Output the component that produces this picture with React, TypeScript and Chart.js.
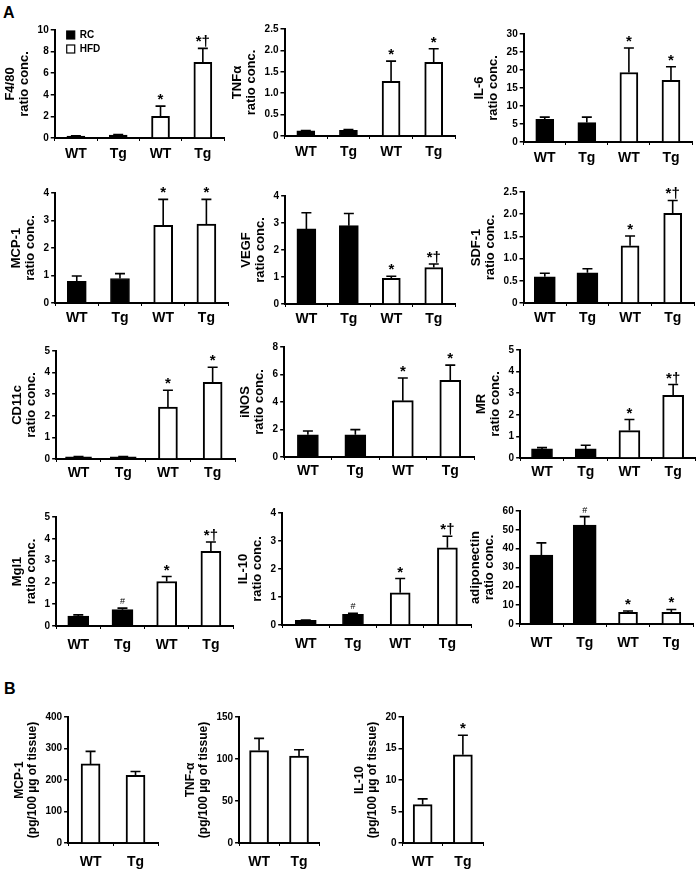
import React, { useEffect, useRef } from "react";
import { Chart, registerables } from "chart.js";

Chart.register(...registerables);

const FONT = "'Liberation Sans', Arial, Helvetica, sans-serif";

// ---------- categories ----------
const groupsA = ["WT", "Tg", "WT", "Tg"];
const groupsB = ["WT", "Tg"];
const seriesNames = ["RC", "HFD"];

// ---------- Panel A values (RC = black, HFD = white) ----------
const f480RC = [0.18, 0.27, null, null];
const f480HFD = [null, null, 2.0, 7.0];
const f480Err = [0.03, 0.05, 0.95, 1.3];
const f480Marks = ["", "", "*", "*†"];

const tnfRC = [0.12, 0.13, null, null];
const tnfHFD = [null, null, 1.28, 1.72];
const tnfErr = [0.01, 0.02, 0.47, 0.32];
const tnfMarks = ["", "", "*", "*"];

const il6RC = [6.3, 5.4, null, null];
const il6HFD = [null, null, 19.3, 17.1];
const il6Err = [0.6, 1.5, 6.8, 3.8];
const il6Marks = ["", "", "*", "*"];

const mcpRC = [0.79, 0.89, null, null];
const mcpHFD = [null, null, 2.82, 2.87];
const mcpErr = [0.19, 0.18, 0.95, 0.9];
const mcpMarks = ["", "", "*", "*"];

const vegfRC = [2.78, 2.9, null, null];
const vegfHFD = [null, null, 0.95, 1.35];
const vegfErr = [0.6, 0.45, 0.08, 0.13];
const vegfMarks = ["", "", "*", "*†"];

const sdfRC = [0.59, 0.68, null, null];
const sdfHFD = [null, null, 1.29, 2.02];
const sdfErr = [0.08, 0.09, 0.22, 0.29];
const sdfMarks = ["", "", "*", "*†"];

const cd11cRC = [0.1, 0.1, null, null];
const cd11cHFD = [null, null, 2.4, 3.55];
const cd11cErr = [0.01, 0.01, 0.78, 0.7];
const cd11cMarks = ["", "", "*", "*"];

const inosRC = [1.62, 1.62, null, null];
const inosHFD = [null, null, 4.1, 5.58];
const inosErr = [0.27, 0.37, 1.65, 1.1];
const inosMarks = ["", "", "*", "*"];

const mrRC = [0.42, 0.42, null, null];
const mrHFD = [null, null, 1.27, 2.9];
const mrErr = [0.06, 0.17, 0.51, 0.5];
const mrMarks = ["", "", "*", "*†"];

const mgl1RC = [0.46, 0.75, null, null];
const mgl1HFD = [null, null, 2.04, 3.42];
const mgl1Err = [0.05, 0.07, 0.23, 0.43];
const mgl1Marks = ["", "#", "*", "*†"];

const il10RC = [0.17, 0.38, null, null];
const il10HFD = [null, null, 1.15, 2.76];
const il10Err = [0.01, 0.04, 0.51, 0.41];
const il10Marks = ["", "#", "*", "*†"];

const adipoRC = [36.6, 52.5, null, null];
const adipoHFD = [null, null, 6.2, 6.2];
const adipoErr = [6.5, 4.5, 0.7, 1.5];
const adipoMarks = ["", "#", "*", "*"];

// ---------- Panel B values (pg/100 µg of tissue) ----------
const bMcpVals = [251, 215];
const bMcpErr = [40, 12];
const bMcpMarks = ["", ""];

const bTnfVals = [110, 103.5];
const bTnfErr = [14.5, 7.5];
const bTnfMarks = ["", ""];

const bIl10Vals = [6.1, 14.0];
const bIl10Err = [0.9, 3.1];
const bIl10Marks = ["", "*"];

// ---------- axis titles ----------
const ratioTitle = "ratio conc.";
const tissueTitle = "(pg/100 µg of tissue)";

type Spec = {
  key: string;
  title: string[];
  labels: string[];
  rc: (number | null)[] | null;
  hfd: (number | null)[];
  err: number[];
  marks: string[];
  max: number;
  step: number;
  legend?: boolean;
};

const specs: Spec[] = [
  { key: "f480", title: ["F4/80", ratioTitle], labels: groupsA, rc: f480RC, hfd: f480HFD, err: f480Err, marks: f480Marks, max: 10, step: 2, legend: true },
  { key: "tnf", title: ["TNFα", ratioTitle], labels: groupsA, rc: tnfRC, hfd: tnfHFD, err: tnfErr, marks: tnfMarks, max: 2.5, step: 0.5 },
  { key: "il6", title: ["IL-6", ratioTitle], labels: groupsA, rc: il6RC, hfd: il6HFD, err: il6Err, marks: il6Marks, max: 30, step: 5 },
  { key: "mcp", title: ["MCP-1", ratioTitle], labels: groupsA, rc: mcpRC, hfd: mcpHFD, err: mcpErr, marks: mcpMarks, max: 4, step: 1 },
  { key: "vegf", title: ["VEGF", ratioTitle], labels: groupsA, rc: vegfRC, hfd: vegfHFD, err: vegfErr, marks: vegfMarks, max: 4, step: 1 },
  { key: "sdf", title: ["SDF-1", ratioTitle], labels: groupsA, rc: sdfRC, hfd: sdfHFD, err: sdfErr, marks: sdfMarks, max: 2.5, step: 0.5 },
  { key: "cd11c", title: ["CD11c", ratioTitle], labels: groupsA, rc: cd11cRC, hfd: cd11cHFD, err: cd11cErr, marks: cd11cMarks, max: 5, step: 1 },
  { key: "inos", title: ["iNOS", ratioTitle], labels: groupsA, rc: inosRC, hfd: inosHFD, err: inosErr, marks: inosMarks, max: 8, step: 2 },
  { key: "mr", title: ["MR", ratioTitle], labels: groupsA, rc: mrRC, hfd: mrHFD, err: mrErr, marks: mrMarks, max: 5, step: 1 },
  { key: "mgl1", title: ["Mgl1", ratioTitle], labels: groupsA, rc: mgl1RC, hfd: mgl1HFD, err: mgl1Err, marks: mgl1Marks, max: 5, step: 1 },
  { key: "il10", title: ["IL-10", ratioTitle], labels: groupsA, rc: il10RC, hfd: il10HFD, err: il10Err, marks: il10Marks, max: 4, step: 1 },
  { key: "adipo", title: ["adiponectin", ratioTitle], labels: groupsA, rc: adipoRC, hfd: adipoHFD, err: adipoErr, marks: adipoMarks, max: 60, step: 10 },
  { key: "bmcp", title: ["MCP-1", tissueTitle], labels: groupsB, rc: null, hfd: bMcpVals, err: bMcpErr, marks: bMcpMarks, max: 400, step: 100 },
  { key: "btnf", title: ["TNF-α", tissueTitle], labels: groupsB, rc: null, hfd: bTnfVals, err: bTnfErr, marks: bTnfMarks, max: 150, step: 50 },
  { key: "bil10", title: ["IL-10", tissueTitle], labels: groupsB, rc: null, hfd: bIl10Vals, err: bIl10Err, marks: bIl10Marks, max: 20, step: 5 },
];

// ---------- layout (page pixels): plot left, plot right, top tick, baseline ----------
type Geo = { ax: number; right: number; top: number; base: number; bars: [number, number]; pad: number; tsize: number };
const geometry: Record<string, Geo> = {
  f480: { ax: 55, right: 224, top: 30, base: 138, bars: [18, 18], pad: 5, tsize: 13 },
  tnf: { ax: 285, right: 455, top: 29, base: 136, bars: [18, 18], pad: 5, tsize: 13 },
  il6: { ax: 524, right: 692, top: 34, base: 142, bars: [18, 18], pad: 5, tsize: 13 },
  mcp: { ax: 55, right: 228, top: 193, base: 303, bars: [19, 19], pad: 4, tsize: 13 },
  vegf: { ax: 285, right: 455, top: 196, base: 304, bars: [19, 18], pad: 4, tsize: 13 },
  sdf: { ax: 524, right: 694, top: 192, base: 303, bars: [21, 18], pad: 4, tsize: 13 },
  cd11c: { ax: 56, right: 235, top: 351, base: 459, bars: [26, 19], pad: 3, tsize: 13 },
  inos: { ax: 284, right: 474, top: 347, base: 457, bars: [21, 21], pad: 3, tsize: 13 },
  mr: { ax: 520, right: 695, top: 350, base: 458, bars: [21, 21], pad: 3, tsize: 13 },
  mgl1: { ax: 56, right: 233, top: 517, base: 626, bars: [21, 20], pad: 8, tsize: 13 },
  il10: { ax: 282, right: 471, top: 513, base: 625, bars: [21, 20], pad: 8, tsize: 13 },
  adipo: { ax: 520, right: 693, top: 511, base: 624, bars: [23, 19], pad: 8, tsize: 13 },
  bmcp: { ax: 68, right: 158, top: 717, base: 843, bars: [19, 19], pad: 8, tsize: 12 },
  btnf: { ax: 239, right: 319, top: 717, base: 843, bars: [19, 19], pad: 8, tsize: 12 },
  bil10: { ax: 403, right: 483, top: 717, base: 843, bars: [19, 19], pad: 8, tsize: 12 },
};

const PT = 26; // room above plot for annotations
const XH = 32; // x-axis band height

function buildChart(canvas: HTMLCanvasElement, spec: Spec, g: Geo, width: number, padRight: number) {
  const plotH = g.base - g.top;
  const height = PT + plotH + XH;
  canvas.width = width;
  canvas.height = height;
  canvas.style.width = width + "px";
  canvas.style.height = height + "px";
  canvas.style.top = g.top - PT + "px";

  const datasets: any[] = [];
  if (spec.rc) {
    datasets.push({
      label: seriesNames[0],
      data: spec.rc,
      backgroundColor: "#000",
      borderColor: "#000",
      borderWidth: 1,
      barThickness: g.bars[0],
      grouped: false,
    });
  }
  datasets.push({
    label: seriesNames[1],
    data: spec.hfd,
    backgroundColor: "#fff",
    borderColor: "#000",
    borderWidth: 2,
    barThickness: g.bars[1],
    grouped: false,
  });

  const errPlugin = {
    id: "errMarks_" + spec.key,
    afterDatasetsDraw(chart: any) {
      const ctx = chart.ctx;
      const ys = chart.scales.y;
      ctx.save();
      ctx.strokeStyle = "#000";
      ctx.fillStyle = "#000";
      ctx.lineWidth = 1.6;
      chart.data.datasets.forEach((ds: any, di: number) => {
        const meta = chart.getDatasetMeta(di);
        meta.data.forEach((el: any, i: number) => {
          const v = ds.data[i];
          if (v === null || v === undefined) return;
          const e = spec.err[i] || 0;
          const y0 = ys.getPixelForValue(v);
          const y1 = ys.getPixelForValue(v + e);
          if (e > 0) {
            ctx.beginPath();
            ctx.moveTo(el.x, y0);
            ctx.lineTo(el.x, y1);
            ctx.moveTo(el.x - 5, y1);
            ctx.lineTo(el.x + 5, y1);
            ctx.stroke();
          }
          const m = spec.marks[i];
          if (m) {
            ctx.textAlign = "center";
            ctx.textBaseline = "alphabetic";
            if (m === "#") {
              ctx.font = `9px ${FONT}`;
              ctx.fillText(m, el.x, y1 - 4);
            } else {
              ctx.font = `bold 15px ${FONT}`;
              ctx.fillText(m, el.x, y1 - 2);
            }
          }
        });
      });
      // in-plot legend (top-left of the plot area)
      if (spec.legend) {
        const { left, top } = chart.chartArea;
        ctx.font = `bold 10px ${FONT}`;
        ctx.textAlign = "left";
        ctx.textBaseline = "middle";
        chart.data.datasets.forEach((ds: any, di: number) => {
          const bx = left + 12;
          const by = top + 1 + di * 14;
          ctx.fillStyle = ds.backgroundColor;
          ctx.fillRect(bx, by, 8, 8);
          ctx.strokeStyle = "#000";
          ctx.lineWidth = 1.2;
          ctx.strokeRect(bx, by, 8, 8);
          ctx.fillStyle = "#000";
          ctx.fillText(ds.label, bx + 13, by + 4.5);
        });
      }
      ctx.restore();
    },
  };

  return new Chart(canvas, {
    type: "bar",
    data: { labels: spec.labels, datasets },
    plugins: [errPlugin],
    options: {
      responsive: false,
      animation: false,
      devicePixelRatio: 1,
      layout: { padding: { top: PT, right: padRight, left: 0, bottom: 0 } },
      plugins: {
        tooltip: { enabled: false },
        legend: { display: false },
      },
      scales: {
        x: {
          grid: { display: true, drawOnChartArea: false, drawTicks: true, tickLength: 3, color: "#000", lineWidth: 1, offset: true },
          border: { display: true, color: "#000", width: 2 },
          ticks: { color: "#000", font: { family: FONT, size: 14, weight: "bold" }, padding: g.pad, maxRotation: 0, autoSkip: false },
          afterFit: (s: any) => {
            s.height = XH;
          },
        },
        y: {
          min: 0,
          max: spec.max,
          ticks: { stepSize: spec.step, color: "#000", font: { family: FONT, size: 10, weight: "bold" }, padding: 2 },
          grid: { drawOnChartArea: false, drawTicks: true, tickLength: 4, color: "#000", lineWidth: 1.5 },
          border: { display: true, color: "#000", width: 2 },
          title: {
            display: true,
            text: spec.title,
            color: "#000",
            font: { family: FONT, size: g.tsize, weight: "bold", lineHeight: 1.1 },
            padding: { top: 0, bottom: 4 },
          },
        },
      },
    } as any,
  });
}

function BarPanel({ spec }: { spec: Spec }) {
  const ref = useRef<HTMLCanvasElement>(null);
  useEffect(() => {
    const canvas = ref.current!;
    const g = geometry[spec.key];
    const plotW = g.right - g.ax;
    const trial = buildChart(canvas, spec, g, plotW + 120, 0);
    const yW = trial.chartArea.left;
    trial.destroy();
    const padRight = 4;
    const chart = buildChart(canvas, spec, g, Math.round(yW + plotW + padRight), padRight);
    canvas.style.left = g.ax - chart.chartArea.left + "px";
    return () => chart.destroy();
  }, [spec]);
  return <canvas ref={ref} style={{ position: "absolute", display: "block" }} />;
}

export default function App() {
  useEffect(() => {
    Chart.defaults.font.family = FONT;
  }, []);
  return (
    <div
      style={{
        position: "absolute",
        left: 0,
        top: 0,
        width: 697,
        height: 871,
        overflow: "hidden",
        background: "#fff",
        fontFamily: FONT,
      }}
    >
      <div style={{ position: "absolute", left: 3, top: 5, fontSize: 16, fontWeight: "bold", lineHeight: "16px" }}>A</div>
      <div style={{ position: "absolute", left: 4, top: 681, fontSize: 16, fontWeight: "bold", lineHeight: "16px" }}>B</div>
      {specs.map((s) => (
        <BarPanel key={s.key} spec={s} />
      ))}
    </div>
  );
}
